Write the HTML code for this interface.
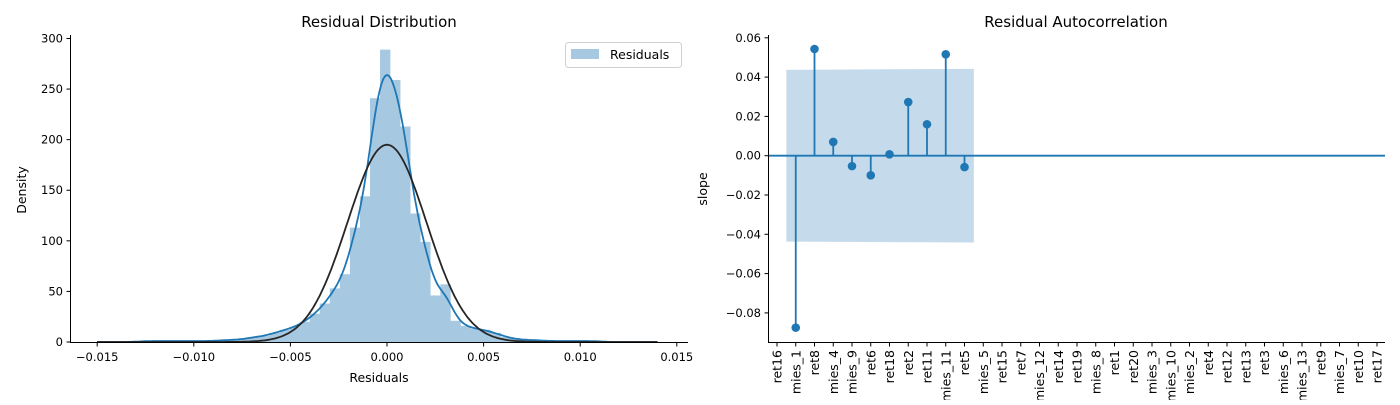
<!DOCTYPE html>
<html><head><meta charset="utf-8"><style>
body{margin:0;background:#fff;}
svg text{font-family:"DejaVu Sans","Liberation Sans",sans-serif;fill:#000;}
</style></head><body>
<svg id="fig" width="1400" height="400" viewBox="0 0 1400 400" xmlns="http://www.w3.org/2000/svg">
<g id="left"></g>
<g id="right"></g>
</svg>
<script>
// ---- Left chart data ----
const binStart = -0.01492;
const binWidth = 0.00052;
const binCounts = [0,0,0,0,1,1,1,1,1,1, 1,1,2,2,3,5,6,9, 12,15,20,28,38,53,67,113,144,241,289,259,213,127,99,46,57,21,16,13,12,9,5,3,2,2,1,1,1,1,1,1,0,0,0,0,0,0,0,0];
const xTicksL = [-0.015,-0.010,-0.005,0.000,0.005,0.010,0.015];
const xTickLabelsL = ["−0.015","−0.010","−0.005","0.000","0.005","0.010","0.015"];
const yTicksL = [0,50,100,150,200,250,300];
const normalMu = 0.0;
const normalSigma = 0.002046;
const kdeBandwidth = 0.00042;
// ---- Right chart data ----
const categories = ["ret16","mies_1","ret8","mies_4","mies_9","ret6","ret18","ret2","ret11","mies_11","ret5","mies_5","ret15","ret7","mies_12","ret14","ret19","mies_8","ret1","ret20","mies_3","mies_10","mies_2","ret4","ret12","ret13","ret3","mies_6","mies_13","ret9","mies_7","ret10","ret17"];
const acfValues = [null,-0.0875,0.0543,0.007,-0.0053,-0.010,0.0007,0.0273,0.016,0.0516,-0.0058];
const confUpper = [0.0437,0.0442];
const confRange = [0.5,10.5];
const yTicksR = [-0.08,-0.06,-0.04,-0.02,0.00,0.02,0.04,0.06];

const NS="http://www.w3.org/2000/svg";
function mk(parent,tag,attrs,text){const e=document.createElementNS(NS,tag);for(const k in attrs)e.setAttribute(k,attrs[k]);if(text!==undefined)e.textContent=text;parent.appendChild(e);return e;}

// ===== Left chart =====
const L=document.getElementById('left');
const xL=v=>387+(v/0.005)*96.6;
const yL=v=>342-v*1.0117;
binCounts.forEach((c,i)=>{
  if(c<=0)return;
  const x0=xL(binStart+i*binWidth), x1=xL(binStart+(i+1)*binWidth);
  const r=mk(L,'rect',{x:x0,y:yL(c),width:x1-x0+0.3,height:yL(0)-yL(c),fill:'#a6c8e0'});
  
  
});
let total=0;binCounts.forEach(c=>total+=c);
const area=total*binWidth;
let kdePts=[];
for(let v=-0.0150;v<=0.01401;v+=0.0001){
  let s=0;
  binCounts.forEach((c,i)=>{const m=binStart+(i+0.5)*binWidth;const z=(v-m)/kdeBandwidth;s+=c*binWidth*Math.exp(-0.5*z*z);});
  const dens=s/(kdeBandwidth*Math.sqrt(2*Math.PI))/area;
  kdePts.push(xL(v).toFixed(1)+','+yL(dens).toFixed(1));
}
const kde=mk(L,'polyline',{points:kdePts.join(' '),fill:'none',stroke:'#1f77b4','stroke-width':1.8});


let nPts=[];
for(let v=-0.0150;v<=0.01401;v+=0.0001){
  const z=(v-normalMu)/normalSigma;
  const d=Math.exp(-0.5*z*z)/(normalSigma*Math.sqrt(2*Math.PI));
  nPts.push(xL(v).toFixed(1)+','+yL(d).toFixed(1));
}
const nl=mk(L,'polyline',{points:nPts.join(' '),fill:'none',stroke:'#262626','stroke-width':1.8});


mk(L,'line',{x1:70.5,y1:35,x2:70.5,y2:342.5,stroke:'#000','stroke-width':1});
mk(L,'line',{x1:70,y1:342.5,x2:688,y2:342.5,stroke:'#000','stroke-width':1});
xTicksL.forEach((t,i)=>{
  const x=xL(t);
  mk(L,'line',{x1:x,y1:342.5,x2:x,y2:346.5,stroke:'#000'});
  const tx=mk(L,'text',{x:x,y:361,'text-anchor':'middle','font-size':'11.5px'},xTickLabelsL[i]);
  
  
});
yTicksL.forEach(t=>{
  const y=yL(t);
  mk(L,'line',{x1:66.5,y1:y,x2:70.5,y2:y,stroke:'#000'});
  const tx=mk(L,'text',{x:63,y:y+4,'text-anchor':'end','font-size':'11.5px'},String(t));
  
  
});
mk(L,'text',{x:379,y:27,'text-anchor':'middle','font-size':'15px',},'Residual Distribution');
mk(L,'text',{x:379,y:382,'text-anchor':'middle','font-size':'12.5px',},'Residuals');
mk(L,'text',{x:0,y:0,'text-anchor':'middle','font-size':'12.5px',transform:'translate(26,190) rotate(-90)',},'Density');
const lg=mk(L,'g',{});
mk(lg,'rect',{x:565.5,y:42.5,width:116,height:25,rx:3,fill:'#fff',stroke:'#d0d0d0'});
mk(lg,'rect',{x:571,y:49,width:28,height:10,fill:'#a6c8e0'});
mk(lg,'text',{x:610,y:59,'font-size':'12.5px',},'Residuals');

// ===== Right chart =====
const R=document.getElementById('right');
const xR=i=>777+i*18.75;
const yR=v=>155.7-v/0.02*39.3;
const band=mk(R,'polygon',{points:[xR(confRange[0])+','+yR(confUpper[0]),xR(confRange[1])+','+yR(confUpper[1]),xR(confRange[1])+','+yR(-confUpper[1]),xR(confRange[0])+','+yR(-confUpper[0])].join(' '),fill:'#c5dbec'});


mk(R,'line',{x1:768,y1:yR(0),x2:1385,y2:yR(0),stroke:'#1f77b4','stroke-width':1.8,});
acfValues.forEach((v,i)=>{
  if(v===null)return;
  const x=xR(i);
  const s=mk(R,'line',{x1:x,y1:yR(0),x2:x,y2:yR(v),stroke:'#1f77b4','stroke-width':1.8});
  
  
  const c=mk(R,'circle',{cx:x,cy:yR(v),r:4.3,fill:'#1f77b4'});
  
  
});
mk(R,'line',{x1:768.5,y1:35,x2:768.5,y2:342.5,stroke:'#000'});
mk(R,'line',{x1:768,y1:342.5,x2:1385,y2:342.5,stroke:'#000'});
categories.forEach((c,i)=>{
  const x=xR(i);
  mk(R,'line',{x1:x,y1:342.5,x2:x,y2:346.5,stroke:'#000'});
  const t=mk(R,'text',{x:0,y:0,'text-anchor':'end','font-size':'12.5px',transform:'translate('+(x+4.5)+',350) rotate(-90)'},c);
  
  
});
yTicksR.forEach(t=>{
  const y=yR(t);
  mk(R,'line',{x1:764.5,y1:y,x2:768.5,y2:y,stroke:'#000'});
  const lbl=(t<0?'−':'')+Math.abs(t).toFixed(2);
  const tx=mk(R,'text',{x:761,y:y+4,'text-anchor':'end','font-size':'11.5px'},lbl);
  
  
});
mk(R,'text',{x:1076,y:27,'text-anchor':'middle','font-size':'15px',},'Residual Autocorrelation');
mk(R,'text',{x:0,y:0,'text-anchor':'middle','font-size':'12.5px',transform:'translate(707,189) rotate(-90)',},'slope');
</script>
</body></html>
